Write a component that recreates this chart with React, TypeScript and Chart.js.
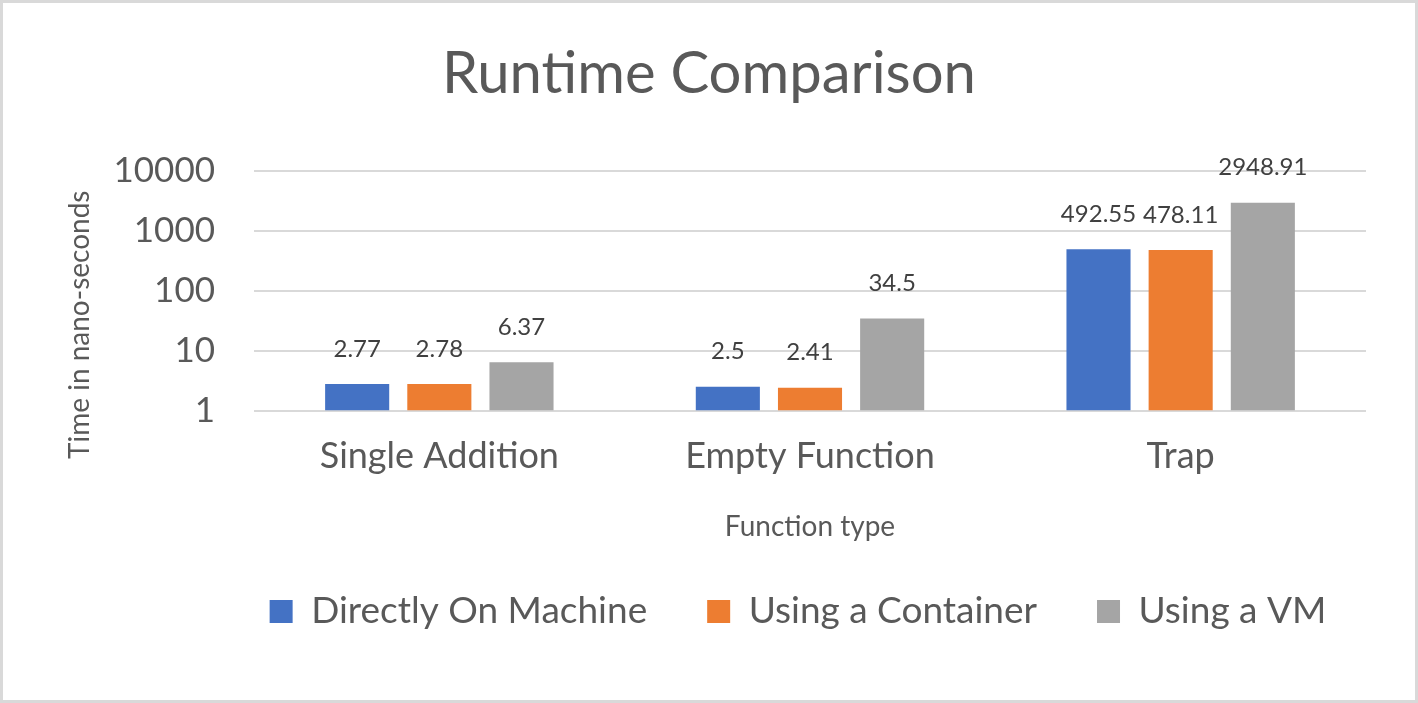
import React, { useEffect, useRef } from 'react';
import { Chart, registerables } from 'chart.js';

Chart.register(...registerables);

const categories = ['Single Addition', 'Empty Function', 'Trap'];
const seriesNames = ['Directly On Machine', 'Using a Container', 'Using a VM'];
const directValues = [2.77, 2.5, 492.55];
const containerValues = [2.78, 2.41, 478.11];
const vmValues = [6.37, 34.5, 2948.91];
const seriesColors = ['#4472C4', '#ED7D31', '#A5A5A5'];
const yTickValues = [1, 10, 100, 1000, 10000];
const chartTitle = 'Runtime Comparison';
const xAxisTitle = 'Function type';
const yAxisTitle = 'Time in nano-seconds';

const FONT = 'Lato, "Open Sans", sans-serif';
const TEXT = '#595959';

const framePlugin = {
  id: 'frame',
  beforeDraw(chart: any) {
    const { ctx, width, height } = chart;
    ctx.save();
    ctx.fillStyle = '#ffffff';
    ctx.fillRect(0, 0, width, height);
    ctx.strokeStyle = '#D9D9D9';
    ctx.lineWidth = 3;
    ctx.strokeRect(1.5, 1.5, width - 3, height - 3);
    ctx.restore();
  },
};

// Centre the title on the whole canvas and the legend slightly left of the plot centre.
const placementPlugin = {
  id: 'placement',
  afterLayout(chart: any) {
    const tb = chart.titleBlock;
    if (tb) {
      tb.left = 0;
      tb.right = chart.width;
    }
    const lg = chart.legend;
    if (lg) {
      const target = (chart.chartArea.left + chart.chartArea.right) / 2 - 12;
      const shift = target - (lg.left + lg.right) / 2;
      lg.left += shift;
      lg.right += shift;
    }
  },
};

// Vertical axis title, placed like the original (a little below the plot's middle).
const yTitlePlugin = {
  id: 'yTitle',
  afterDraw(chart: any) {
    const { ctx, chartArea } = chart;
    ctx.save();
    ctx.translate(80, (chartArea.top + chartArea.bottom) / 2 + 34);
    ctx.rotate(-Math.PI / 2);
    ctx.font = `28px ${FONT}`;
    ctx.fillStyle = TEXT;
    ctx.textAlign = 'center';
    ctx.textBaseline = 'middle';
    ctx.fillText(yAxisTitle, 0, 0);
    ctx.restore();
  },
};

const dataLabelPlugin = {
  id: 'dataLabels',
  afterDatasetsDraw(chart: any) {
    const { ctx } = chart;
    ctx.save();
    ctx.font = `24px ${FONT}`;
    ctx.fillStyle = '#404040';
    ctx.textAlign = 'center';
    ctx.textBaseline = 'middle';
    chart.data.datasets.forEach((ds: any, i: number) => {
      const meta = chart.getDatasetMeta(i);
      meta.data.forEach((el: any, j: number) => {
        ctx.fillText(String(ds.data[j]), el.x, el.y - 35);
      });
    });
    ctx.restore();
  },
};

export default function App() {
  const ref = useRef<HTMLCanvasElement | null>(null);

  useEffect(() => {
    document.body.style.margin = '0';
    if (!ref.current) return;
    const seriesValues = [directValues, containerValues, vmValues];
    const chart = new Chart(ref.current, {
      type: 'bar',
      data: {
        labels: categories,
        datasets: seriesNames.map((name, i) => ({
          label: name,
          data: seriesValues[i],
          backgroundColor: seriesColors[i],
          borderWidth: 0,
          categoryPercentage: 0.665,
          barPercentage: 0.78,
        })),
      },
      options: {
        responsive: false,
        animation: false,
        devicePixelRatio: 1,
        layout: { padding: { left: 3, right: 52, top: 0, bottom: 63 } },
        plugins: {
          title: {
            display: true,
            text: chartTitle,
            color: TEXT,
            font: { family: FONT, size: 58, weight: 'normal' },
            padding: { top: 39, bottom: 62.4 },
          },
          legend: {
            position: 'bottom',
            labels: {
              boxWidth: 23,
              boxHeight: 23,
              color: TEXT,
              font: { family: FONT, size: 37 },
              padding: 60,
            },
          },
          tooltip: { enabled: false },
        },
        scales: {
          x: {
            grid: { display: false },
            border: { display: false },
            ticks: { color: TEXT, font: { family: FONT, size: 36 }, padding: 16 },
            title: {
              display: true,
              text: xAxisTitle,
              color: TEXT,
              font: { family: FONT, size: 28 },
              padding: { top: 0, bottom: -11 },
            },
            afterFit: (s: any) => {
              s.height = 122.5;
            },
          },
          y: {
            type: 'logarithmic',
            min: 1,
            max: 10000,
            afterBuildTicks: (s: any) => {
              s.ticks = yTickValues.map((v) => ({ value: v }));
            },
            ticks: {
              callback: (v: any) => String(v),
              color: TEXT,
              font: { family: FONT, size: 35 },
              padding: 39,
            },
            grid: { color: '#D9D9D9', lineWidth: 2, drawTicks: false },
            border: { display: false },
            title: { display: false },
            afterFit: (s: any) => {
              s.width = 251;
            },
          },
        },
      },
      plugins: [framePlugin, placementPlugin, yTitlePlugin, dataLabelPlugin],
    });
    return () => chart.destroy();
  }, []);

  return (
    <div style={{ width: 1418, height: 703, position: 'relative' }}>
      <canvas ref={ref} width={1418} height={703} style={{ display: 'block' }} />
    </div>
  );
}
